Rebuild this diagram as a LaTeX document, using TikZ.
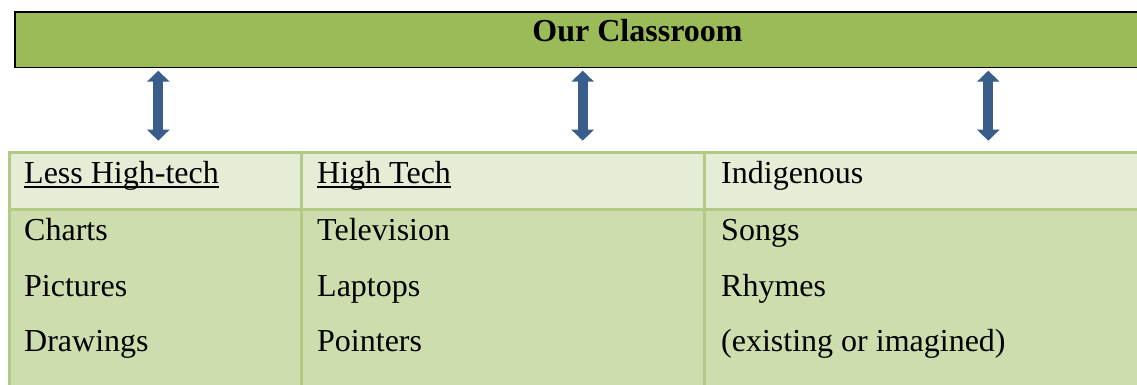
\documentclass[tikz,border=0pt]{standalone}
\usepackage{fontspec}
\setmainfont{Liberation Serif}
\usetikzlibrary{arrows.meta}
\definecolor{barfill}{HTML}{9BBB59}
\definecolor{headfill}{HTML}{E5EDD7}
\definecolor{bodyfill}{HTML}{CEDDAD}
\definecolor{gridc}{HTML}{B3CA85}
\definecolor{arrowc}{HTML}{3A5E8C}
\tikzset{
  txt/.style={anchor=base west, inner sep=0pt, font=\fontsize{32}{38}\selectfont},
  ttl/.style={anchor=base, inner sep=0pt, font=\fontsize{32}{38}\selectfont\bfseries},
  uline/.style={line width=1.6pt, black},
  grid/.style={line width=3pt, gridc},
  link/.style={line width=10pt, arrowc, {Triangle[width=22pt,length=11pt]}-{Triangle[width=22pt,length=11pt]}}
}
\begin{document}
\begin{tikzpicture}[x=1pt,y=-1pt]
\useasboundingbox (0,0) rectangle (1137,385);
% title bar
\fill[barfill] (15,12) rectangle (1145,67.5);
\draw[black, line width=1.8pt] (1145,12) -- (15,12) -- (15,67.5) -- (1145,67.5);
\node[ttl] (title) at (637.5,42) {Our Classroom};
% table
\fill[headfill] (10,152.5) rectangle (1145,209.5);
\fill[bodyfill] (10,209.5) rectangle (1145,395);
\draw[grid] (1145,152.5) -- (9.7,152.5) -- (9.7,395);
\draw[grid] (9.7,209.5) -- (1145,209.5);
\draw[grid] (301.5,152.5) -- (301.5,395);
\draw[grid] (704.5,152.5) -- (704.5,395);
% arrows
\coordinate (a1t) at (158.3,70.7); \coordinate (a1b) at (158.3,140.7);
\coordinate (a2t) at (582.7,70.7); \coordinate (a2b) at (582.7,140.7);
\coordinate (a3t) at (988.3,70.7); \coordinate (a3b) at (988.3,140.7);
\draw[link] (a1t) -- (a1b);
\draw[link] (a2t) -- (a2b);
\draw[link] (a3t) -- (a3b);
% column 1
\node[txt] (h1) at (24,183) {Less High-tech};
\draw[uline] ([yshift=-4pt]h1.base west) -- ([yshift=-4pt]h1.base east);
\node[txt] (c11) at (24,240) {Charts};
\node[txt] (c12) at (24,296) {Pictures};
\node[txt] (c13) at (24,351) {Drawings};
% column 2
\node[txt] (h2) at (317,183) {High Tech};
\draw[uline] ([yshift=-4pt]h2.base west) -- ([yshift=-4pt]h2.base east);
\node[txt] (c21) at (317,240) {Television};
\node[txt] (c22) at (317,296) {Laptops};
\node[txt] (c23) at (317,351) {Pointers};
% column 3
\node[txt] (h3) at (721,183) {Indigenous};
\node[txt] (c31) at (721,240) {Songs};
\node[txt] (c32) at (721,296) {Rhymes};
\node[txt] (c33) at (721,351) {(existing or imagined)};
\end{tikzpicture}
\end{document}
